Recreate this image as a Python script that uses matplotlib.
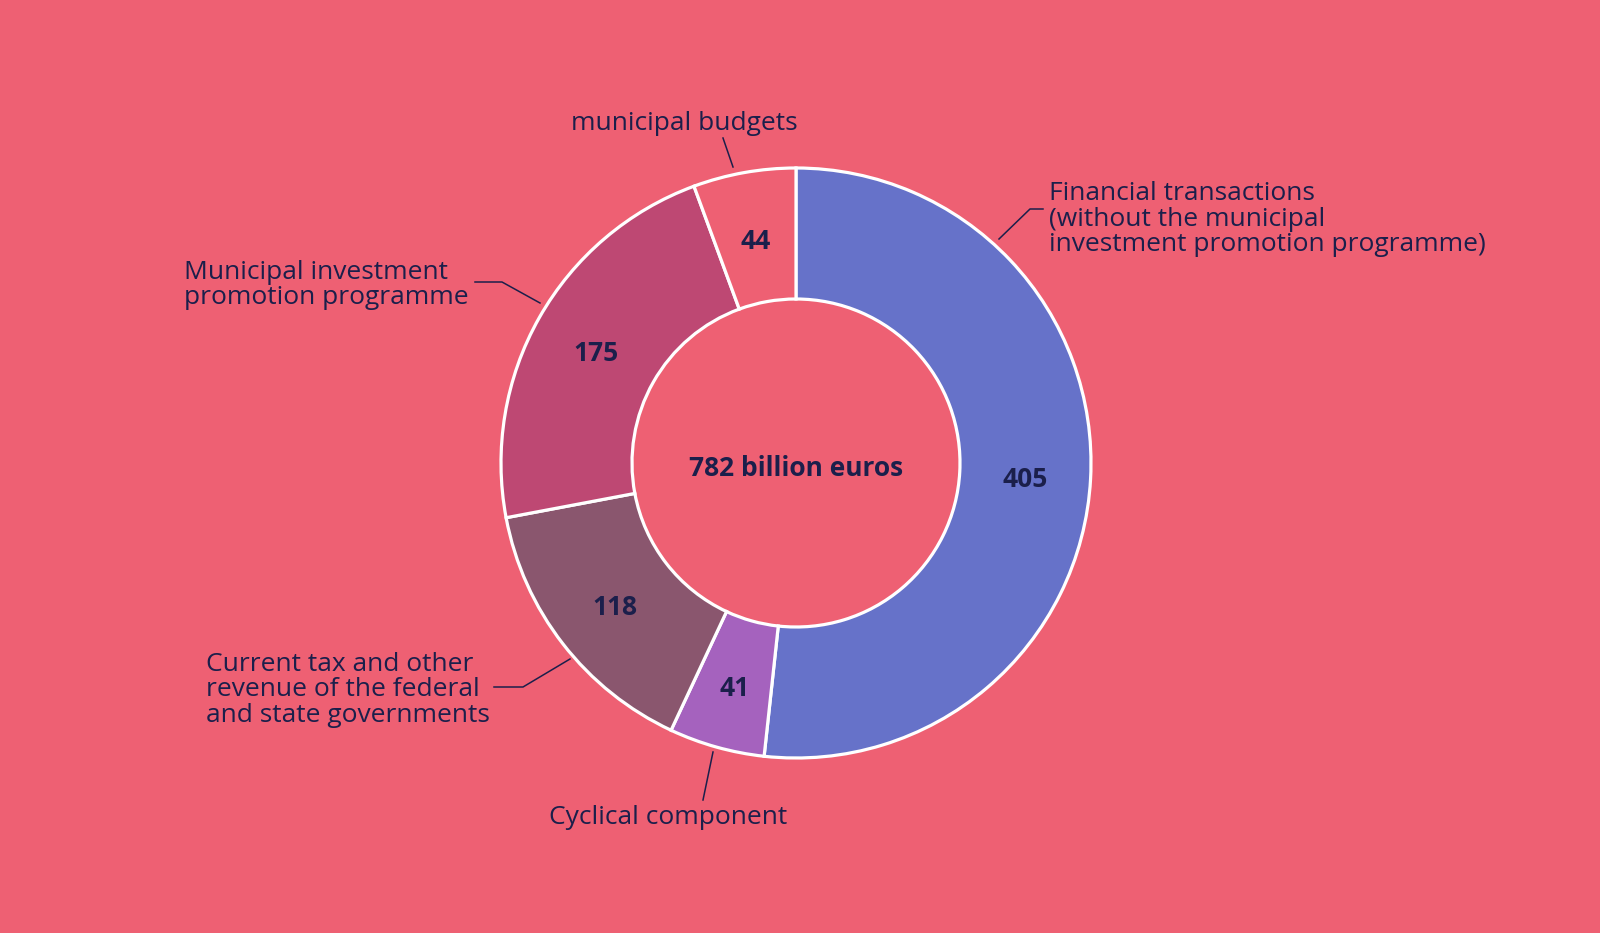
import matplotlib
matplotlib.use("Agg")
import matplotlib.pyplot as plt
import numpy as np

categories = [
    "Financial transactions\n(without the municipal\ninvestment promotion programme)",
    "Cyclical component",
    "Current tax and other\nrevenue of the federal\nand state governments",
    "Municipal investment\npromotion programme",
    "municipal budgets",
]
values = [405, 41, 118, 175, 44]
total_label = "782 billion euros"

colors = ["#6672C9", "#A562BE", "#8A566E", "#BE4873", "#EE6073"]
bg = "#EE6073"
txt = "#1B1F4B"
FONT = ["Open Sans", "Noto Sans", "DejaVu Sans"]

W, H = 1600, 933
fig = plt.figure(figsize=(16, 9.33), dpi=100)
fig.patch.set_facecolor(bg)
ax = fig.add_axes([0, 0, 1, 1])

DY = 4  # vertical text tweak (px)

def Y(y):
    return H - y

cx, cy = 796, Y(463)
R_out, R_in = 295, 164
fs = 19.0
fsv = 19.0

wedges, texts = ax.pie(
    values, colors=colors, startangle=90, counterclock=False,
    center=(cx, cy), radius=R_out,
    labels=[str(v) for v in values],
    labeldistance=(R_out + R_in) / 2 / R_out,
    wedgeprops=dict(width=R_out - R_in, edgecolor="white", linewidth=2.3),
    textprops=dict(color=txt, fontsize=fsv, fontweight="bold",
                   family=FONT),
    frame=True,
)
for t in texts:
    t.set_ha("center")
    t.set_va("center")
    x, y = t.get_position()
    t.set_position((x, y - DY))
ax.set_xlim(0, W)
ax.set_ylim(0, H)
ax.set_aspect("equal")
ax.axis("off")

ax.text(cx, Y(466 + DY - 1), total_label, ha="center", va="center", fontsize=fsv,
        fontweight="bold", color=txt, family=FONT)

lw = 1.1
ls = 1.05
# Financial transactions
ax.plot([999, 1030, 1043], [Y(239), Y(209), Y(209)], color=txt, lw=lw)
ax.text(1049, Y(215 + DY), categories[0], ha="left", va="center", fontsize=fs,
        color=txt, family=FONT, linespacing=ls)
# Cyclical
ax.plot([703, 713], [Y(800), Y(752)], color=txt, lw=lw)
ax.text(668, Y(814 + DY), categories[1], ha="center", va="center", fontsize=fs,
        color=txt, family=FONT)
# Current tax
ax.plot([494, 523, 570], [Y(687), Y(687), Y(659)], color=txt, lw=lw)
ax.text(206, Y(686 + DY), categories[2], ha="left", va="center", fontsize=fs,
        color=txt, family=FONT, linespacing=ls)
# Municipal investment
ax.plot([475, 502, 540], [Y(282), Y(282), Y(303)], color=txt, lw=lw)
ax.text(184, Y(281 + DY), categories[3], ha="left", va="center", fontsize=fs,
        color=txt, family=FONT, linespacing=ls)
# municipal budgets
ax.plot([723, 733], [Y(138), Y(167)], color=txt, lw=lw)
ax.text(684, Y(120 + DY), categories[4], ha="center", va="center", fontsize=fs,
        color=txt, family=FONT)

fig.savefig("out.png", dpi=100, facecolor=bg)
